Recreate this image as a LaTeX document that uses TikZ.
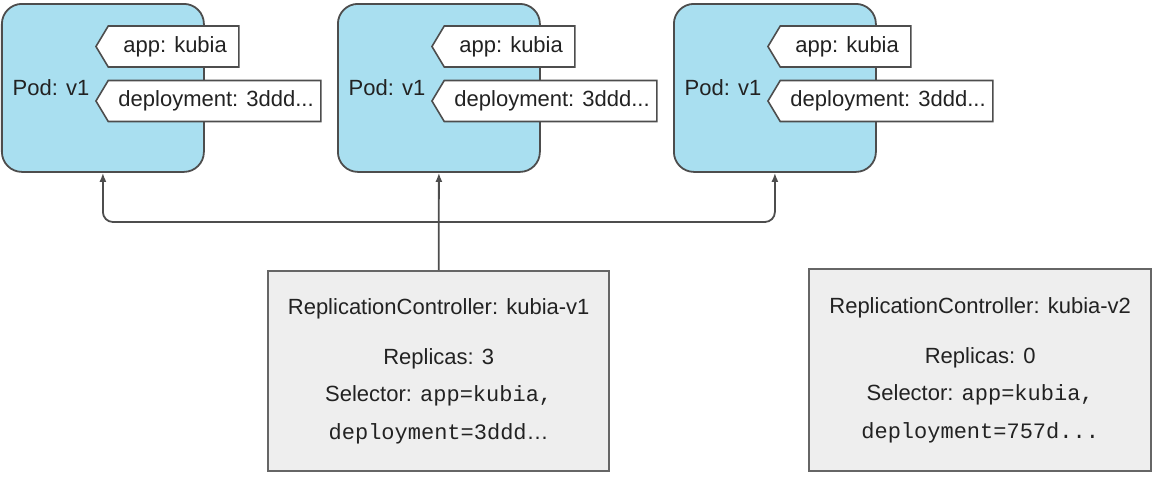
\documentclass[tikz,border=0pt]{standalone}
\usepackage{fontspec}
\setmainfont{Liberation Sans}
\setmonofont{Liberation Mono}
\usetikzlibrary{shapes.symbols,arrows.meta}
\definecolor{podfill}{HTML}{A9DFF0}
\definecolor{podline}{HTML}{4D4D4D}
\definecolor{rcfill}{HTML}{EEEEEE}
\definecolor{rcline}{HTML}{666666}
\definecolor{txt}{HTML}{222222}
\tikzset{
  x=1pt, y=-1pt,
  pod/.style={draw=podline, fill=podfill, line width=1.8pt, rounded corners=20pt,
    minimum width=202pt, minimum height=168pt, anchor=north west, inner sep=0pt},
  podlabel/.style={font=\fontsize{22}{26}\selectfont, text=txt, inner sep=0pt},
  tag/.style={shape=signal, signal from=nowhere, signal to=west, signal pointer angle=118,
    draw=podline, fill=white, line width=1.6pt, minimum height=41pt, inner sep=0pt,
    anchor=west, font=\fontsize{22}{26}\selectfont, text=txt},
  rc/.style={draw=rcline, fill=rcfill, line width=2.4pt, anchor=north west, inner sep=0pt,
    align=center, font=\fontsize{22}{37.5}\selectfont, text=txt},
  conn/.style={draw=podline, line width=1.8pt, rounded corners=10pt},
  tip/.style={-{Latex[length=9pt,width=7pt]}}
}
\begin{document}
\begin{tikzpicture}
\useasboundingbox (0,0) rectangle (1152,498);
% pods
\foreach \i/\x in {1/1,2/337,3/673}{
  \node[pod] (pod\i) at (\x,3) {};
  \node[podlabel] (pl\i) at (\x+50,88) {Pod: v1};
  \node[tag, minimum width=143pt] (app\i) at (\x+94,46.5) {\hspace*{3pt}app: kubia};
  \node[tag, minimum width=225pt] (dep\i) at (\x+94,101) {\hspace*{3pt}deployment: 3ddd...};
}
% replication controllers
\node[rc, minimum width=341pt, minimum height=200pt] (rc1) at (267,270)
  {ReplicationController: kubia-v1\\[12.5pt]Replicas: 3\\Selector: \texttt{app=kubia,}\\\texttt{deployment=3ddd}…};
\node[rc, minimum width=342pt, minimum height=202pt] (rc2) at (808,268)
  {ReplicationController: kubia-v2\\[12.5pt]Replicas: 0\\Selector: \texttt{app=kubia,}\\\texttt{deployment=757d...}};
% connectors
\coordinate (j) at (rc1.north |- 0,222);
\draw[conn, tip] (rc1.north) -- (pod2.south);
\draw[conn, tip] (j) -| (pod1.south);
\draw[conn, tip] (j) -| (pod3.south);
\end{tikzpicture}
\end{document}
